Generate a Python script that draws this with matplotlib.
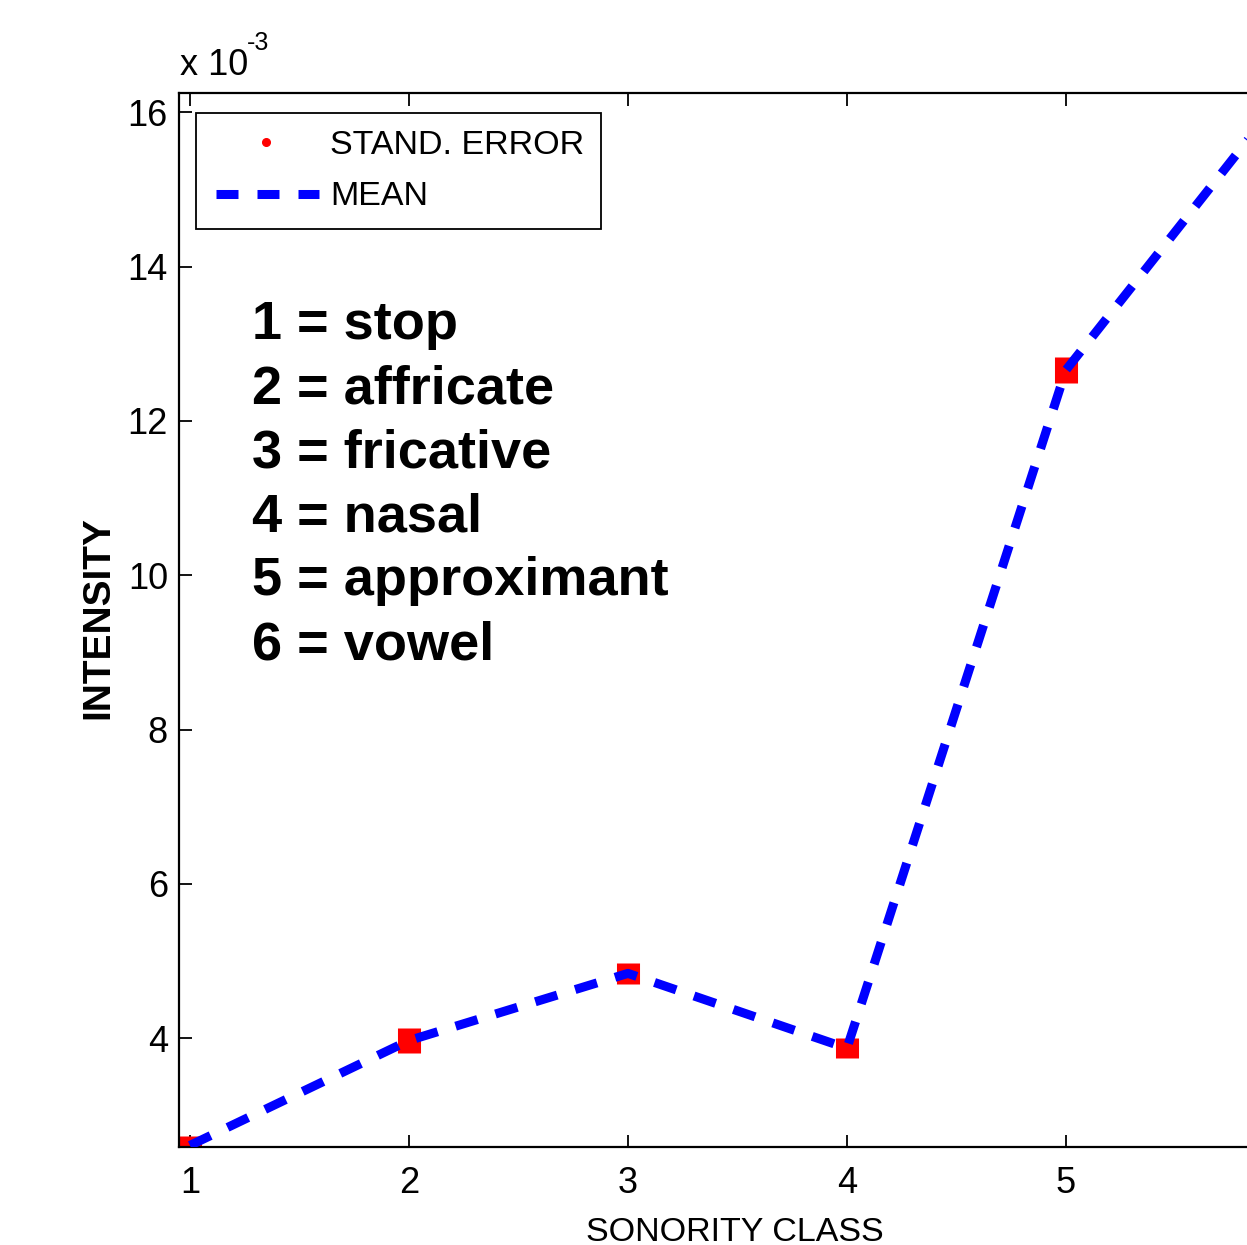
import matplotlib
matplotlib.use("Agg")
import matplotlib.pyplot as plt
from matplotlib.lines import Line2D
from matplotlib.ticker import FuncFormatter, FixedLocator

# ---- data ----
sonority_class = [1, 2, 3, 4, 5, 6]
mean_intensity = [2.61e-3, 3.97e-3, 4.84e-3, 3.87e-3, 12.66e-3, 16.25e-3]
stand_error = [0.12e-3, 0.16e-3, 0.135e-3, 0.13e-3, 0.17e-3, 0.20e-3]
x_ticks = [1, 2, 3, 4, 5, 6]
y_ticks = [4e-3, 6e-3, 8e-3, 10e-3, 12e-3, 14e-3, 16e-3]
class_names = ["1 = stop", "2 = affricate", "3 = fricative", "4 = nasal",
               "5 = approximant", "6 = vowel"]

plt.rcParams['lines.scale_dashes'] = False
REG = ['Liberation Sans', 'DejaVu Sans']
FS = 24.5      # legend / xlabel
FS_TICK = 26

W, H, DPI = 1247, 1245, 100
fig = plt.figure(figsize=(W / DPI, H / DPI), dpi=DPI)
fig.patch.set_facecolor('white')

x0, x1 = 0.95, 6.05
y0, y1 = 2.59e-3, 16.25e-3
left_px, top_px, bot_px = 179, 93, 1147
px_per_unit = 219
width_px = (x1 - x0) * px_per_unit
ax = fig.add_axes([left_px / W, (H - bot_px) / H, width_px / W, (bot_px - top_px) / H])

# standard error blocks (mean +/- SE)
lo = [m - s for m, s in zip(mean_intensity, stand_error)]
hi = [m + s for m, s in zip(mean_intensity, stand_error)]
ax.vlines(sonority_class, lo, hi, colors='#ff0000', linewidth=16.6,
          capstyle='butt', zorder=2)
# mean dashed line
ax.plot(sonority_class, mean_intensity, color='#0000ff', linewidth=6.5,
        linestyle=(0, (16.5, 13.5)), dash_capstyle='butt', zorder=3)

ax.set_xlim(x0, x1)
ax.set_ylim(y0, y1)
ax.xaxis.set_major_locator(FixedLocator(x_ticks))
ax.yaxis.set_major_locator(FixedLocator(y_ticks))
ax.yaxis.set_major_formatter(FuncFormatter(lambda v, p: f"{v * 1e3:g}"))
ax.xaxis.set_major_formatter(FuncFormatter(lambda v, p: f"{v:g}"))

for s in ax.spines.values():
    s.set_linewidth(1.6)
ax.tick_params(direction='in', length=9, width=1.3, top=True, right=True,
               labelsize=FS_TICK)
ax.tick_params(axis='x', pad=14)
ax.tick_params(axis='y', pad=8)
for lab in ax.get_xticklabels() + ax.get_yticklabels():
    lab.set_family(REG)

ax.set_xlabel("SONORITY CLASS", family=REG, fontsize=FS)
ax.xaxis.set_label_coords(0.4978, -0.066)
ax.set_ylabel("INTENSITY", family=REG, fontsize=28, fontweight='bold')
ax.yaxis.set_label_coords(-0.0564, 0.502)

# offset text "x 10^-3"
fig.text(180 / W, 1 - 75 / H, "x 10", family=REG, fontsize=FS_TICK,
         ha='left', va='baseline')
fig.text(247 / W, 1 - 50 / H, "-3", family=REG, fontsize=18,
         ha='left', va='baseline')

# class descriptions (figure-pixel positions)
base0 = 339
step = 64
for i, name in enumerate(class_names):
    fig.text(252 / W, 1 - (base0 + i * step) / H, name,
             fontsize=39, fontweight='bold', family=REG, ha='left', va='baseline')

# legend
em = FS / 0.72  # font size in px
h_se = Line2D([], [], color='#ff0000', marker='.', markersize=11, linestyle='none')
h_mean = Line2D([], [], color='#0000ff', linewidth=6.5,
                linestyle=(38 * 0.72, (22 * 0.72, 19 * 0.72)), dash_capstyle='butt')
leg = ax.legend([h_se, h_mean], ["STAND. ERROR", "MEAN"],
                loc='upper left', bbox_to_anchor=((196 - left_px) / width_px,
                                                  (bot_px - 113) / (bot_px - top_px)),
                borderaxespad=0, borderpad=17 / em, handlelength=106 / em,
                handletextpad=11 / em, labelspacing=0.6, fancybox=False,
                framealpha=1, edgecolor='black',
                prop={'family': REG, 'size': FS})
leg.get_frame().set_linewidth(1.3)

fig.savefig("out.png", dpi=DPI)
